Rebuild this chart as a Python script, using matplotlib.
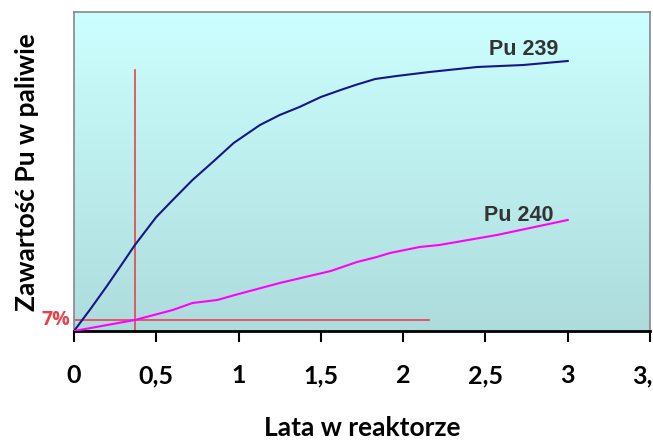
import matplotlib.pyplot as plt
import numpy as np

# Pu 239 / Pu 240 content vs years in reactor (y in arbitrary units, no scale shown)
years_239 = [0, 0.1, 0.2, 0.3, 0.37, 0.5, 0.6, 0.72, 0.85, 0.97, 1.13, 1.25, 1.37,
             1.5, 1.62, 1.71, 1.83, 1.96, 2.16, 2.45, 2.73, 3.0]
pu239 = [0, 22, 45, 69, 86, 114, 131, 151, 170, 188, 206, 216, 224,
         234, 241, 246, 252, 255, 259, 264, 266, 270]
years_240 = [0, 0.37, 0.6, 0.72, 0.87, 1.0, 1.25, 1.56, 1.72, 1.84, 1.92, 2.1, 2.22, 2.57, 3.0]
pu240 = [0, 11, 21, 28, 31, 37, 48, 60, 69, 74, 78, 84, 86, 96, 111]

xticks = [0, 0.5, 1, 1.5, 2, 2.5, 3, 3.5]
xtick_labels = ['0', '0,5', '1', '1,5', '2', '2,5', '3', '3,5']

mark_x = 0.37      # vertical red marker
mark_y = 11        # 7% level
mark_top = 261
mark_right = 2.16

fig = plt.figure(figsize=(6.53, 4.41), dpi=100)
ax = fig.add_axes([74 / 653, 110 / 441, 576 / 653, 319 / 441])
ax.set_xlim(0, 3.5)
ax.set_ylim(0, 319)

# gradient background
top = np.array([204, 255, 255]) / 255
bot = np.array([174, 220, 220]) / 255
t = np.linspace(0, 1, 256)[:, None]
grad = (bot * (1 - t) + top * t)[:, None, :]
ax.imshow(grad, extent=[0, 1, 0, 1], transform=ax.transAxes, origin='lower',
          aspect='auto', zorder=0)

ax.plot(years_239, pu239, color='#16168a', lw=1.5, zorder=3)
ax.plot(years_240, pu240, color='#ff00ff', lw=1.5, zorder=3)

ax.plot([mark_x, mark_x], [0, mark_top], color='#e8434c', lw=1.2, zorder=2)
ax.plot([0, mark_right], [mark_y, mark_y], color='#e8434c', lw=1.2, zorder=2)

ax.text(2.73, 276, 'Pu 239', family='Liberation Sans', weight='bold', fontsize=15.5,
        color='#333333', ha='center', va='baseline')
ax.text(2.70, 110, 'Pu 240', family='Liberation Sans', weight='bold', fontsize=15.5,
        color='#333333', ha='center', va='baseline')
ax.text(-0.02, mark_y, '7%', family='Open Sans', weight='bold', fontsize=14,
        color='#e8434c', ha='right', va='center')

ax.set_xticks(xticks)
ax.set_xticklabels(xtick_labels, family='Lato', weight='bold', fontsize=18)
ax.set_yticks([])
ax.tick_params(axis='x', length=8, width=1.5, pad=16, color='black')

for s in ['left', 'top', 'right']:
    ax.spines[s].set_color('#888888')
    ax.spines[s].set_linewidth(1.2)
ax.spines['bottom'].set_color('black')
ax.spines['bottom'].set_linewidth(2)

fig.text(362 / 653, 1 - 428 / 441, 'Lata w reaktorze', family='Lato', weight='bold',
         fontsize=19, ha='center', va='center')
fig.text(27 / 653, 1 - 172 / 441, 'Zawartość Pu w paliwie', family='Lato', weight='bold',
         fontsize=19, ha='center', va='center', rotation=90)

fig.savefig('out.png', dpi=100)
